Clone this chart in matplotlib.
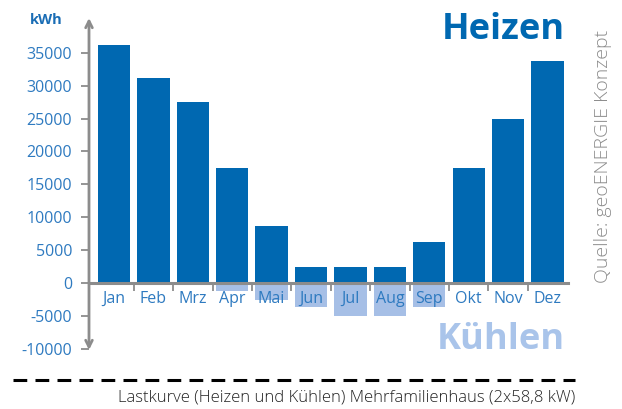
# Lastkurve Heizen / Kühlen, Monatswerte in kWh

import numpy as np
import matplotlib.pyplot as plt

monate = ['Jan', 'Feb', 'Mrz', 'Apr', 'Mai', 'Jun', 'Jul', 'Aug', 'Sep', 'Okt', 'Nov', 'Dez']
heizen = [36200, 31200, 27500, 17500, 8700, 2400, 2400, 2400, 6200, 17500, 25000, 33800]
kuehlen = [0, 0, 0, -1300, -2600, -3700, -5000, -5000, -3700, 0, 0, 0]
yticks = [-10000, -5000, 0, 5000, 10000, 15000, 20000, 25000, 30000, 35000]

blau = '#0068b1'
hellblau = '#a6bfe6'
textblau = '#2e7ac0'
grau = '#8c8c8c'

plt.rcParams['font.family'] = ['Open Sans', 'DejaVu Sans']

fig = plt.figure(figsize=(6.22, 4.09), dpi=100)
ax = fig.add_axes([89 / 622, 59 / 409, 479 / 622, 332 / 409])

x = np.arange(len(monate))
xmin, xmax = -0.635, 11.52
ymin, ymax = -10200, 40300

ax.bar(x, kuehlen, width=0.82, color=hellblau, zorder=1)
ax.bar(x, heizen, width=0.82, color=blau, zorder=2)

ax.set_xlim(xmin, xmax)
ax.set_ylim(ymin, ymax)
for s in ['top', 'right', 'left']:
    ax.spines[s].set_visible(False)
# x-Achse liegt auf 0
ax.spines['bottom'].set_position(('data', 0))
ax.spines['bottom'].set_color(grau)
ax.spines['bottom'].set_linewidth(2.2)
ax.spines['bottom'].set_zorder(3)

ax.annotate('', xy=(xmin, ymax), xytext=(xmin, ymin), xycoords='data',
            arrowprops=dict(arrowstyle='<->', color=grau, lw=2.0, mutation_scale=12,
                            shrinkA=0, shrinkB=0), annotation_clip=False, zorder=3)

ax.set_xticks(x)
ax.set_xticklabels(monate)
ax.set_xticks(x[:-1] + 0.5, minor=True)
ax.tick_params(axis='x', which='major', length=0, pad=6, labelsize=11.5, labelcolor=textblau)
ax.tick_params(axis='x', which='minor', length=6, width=1.3, color=grau, direction='out')
ax.set_yticks(yticks)
ax.set_yticklabels([str(v) for v in yticks])
ax.tick_params(axis='y', length=6, width=1.3, color=grau, pad=6, labelsize=11.5, labelcolor=textblau)

fig.text(46 / 622, 1 - 20 / 409, 'kWh', color='#1a6db5', fontsize=10.5, fontweight='bold',
         ha='center', va='center')
fig.text(565 / 622, 1 - 30 / 409, 'Heizen', color=blau, fontsize=26, fontweight='bold',
         ha='right', va='center')
fig.text(565 / 622, 1 - 340 / 409, 'Kühlen', color='#a9c4ea', fontsize=26, fontweight='bold',
         ha='right', va='center')
fig.text(603 / 622, 1 - 156 / 409, 'Quelle: geoENERGIE Konzept', color=grau, fontsize=14,
         fontweight='light', rotation=90, ha='center', va='center')

# gestrichelte Linie und Unterschrift
fig.add_artist(plt.Line2D([13 / 622, 575 / 622], [1 - 380 / 409, 1 - 380 / 409], color='black',
                          lw=2.2, linestyle=(0, (4.5, 2.7))))
fig.text(575 / 622, 1 - 398 / 409, 'Lastkurve (Heizen und Kühlen) Mehrfamilienhaus (2x58,8 kW)',
         color='#222222', fontsize=12, fontweight='light', ha='right', va='center')

fig.savefig('out.png', dpi=100)
